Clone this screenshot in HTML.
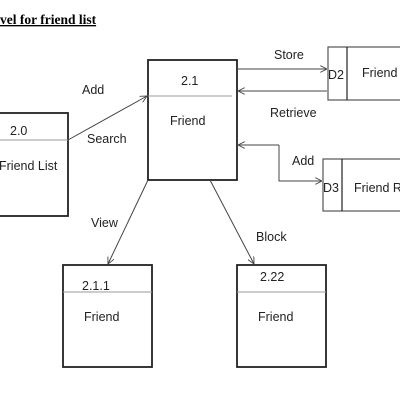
<!DOCTYPE html>
<html><head><style>html,body{margin:0;padding:0;background:#fff}svg{display:block}</style></head>
<body>
<svg width="400" height="400" viewBox="0 0 400 400" xmlns="http://www.w3.org/2000/svg">
<defs>
<marker id="a" viewBox="0 0 10 10" refX="10" refY="5" markerWidth="7" markerHeight="7" orient="auto" markerUnits="userSpaceOnUse">
<path d="M0,0 L10,5 L0,10" fill="none" stroke="#444" stroke-width="1.3"/></marker>
</defs>
<text x="0" y="24" font-family="Liberation Serif,serif" font-weight="bold" font-size="13.5" text-decoration="underline">vel for friend list</text>
<g fill="none" stroke="#222" stroke-width="1.8">
<rect x="-5" y="113" width="73" height="103"/>
<rect x="148" y="60" width="89" height="120"/>
<rect x="63" y="265" width="89" height="102"/>
<rect x="237" y="265" width="89" height="102"/>
</g>
<g fill="none" stroke="#555" stroke-width="1.2">
<rect x="328" y="47" width="80" height="53"/>
<line x1="347" y1="47" x2="347" y2="100" stroke="#222"/>
<rect x="323" y="159" width="85" height="52"/>
<line x1="342" y1="159" x2="342" y2="211" stroke="#222"/>
</g>
<g stroke="#999" stroke-width="1">
<line x1="-5" y1="140" x2="68" y2="140"/>
<line x1="148" y1="96" x2="232" y2="96"/>
<line x1="63" y1="292" x2="152" y2="292"/>
<line x1="237" y1="292" x2="326" y2="292"/>
</g>
<g fill="none" stroke="#444" stroke-width="1">
<line x1="68" y1="140" x2="147" y2="96" marker-end="url(#a)"/>
<line x1="237" y1="69" x2="327" y2="69" marker-end="url(#a)"/>
<line x1="327" y1="91" x2="238" y2="91" marker-end="url(#a)"/>
<polyline points="279,145 279,181 322,181" marker-end="url(#a)"/>
<line x1="279" y1="145" x2="238" y2="145" marker-end="url(#a)"/>
<line x1="148" y1="180" x2="108" y2="264" marker-end="url(#a)"/>
<line x1="210" y1="180" x2="254" y2="264" marker-end="url(#a)"/>
</g>
<g font-family="Liberation Sans,sans-serif" font-size="12.5" fill="#222">
<text x="10" y="135">2.0</text>
<text x="-1" y="170">Friend List</text>
<text x="181" y="85">2.1</text>
<text x="170" y="125">Friend</text>
<text x="82" y="94">Add</text>
<text x="87" y="143">Search</text>
<text x="274" y="59">Store</text>
<text x="270" y="117">Retrieve</text>
<text x="292" y="165">Add</text>
<text x="328" y="79">D2</text>
<text x="362" y="77">Friend</text>
<text x="323" y="192">D3</text>
<text x="354" y="192">Friend R</text>
<text x="91" y="227">View</text>
<text x="256" y="241">Block</text>
<text x="82" y="290">2.1.1</text>
<text x="260" y="281">2.22</text>
<text x="84" y="321">Friend</text>
<text x="258" y="321">Friend</text>
</g>
</svg>
</body></html>
